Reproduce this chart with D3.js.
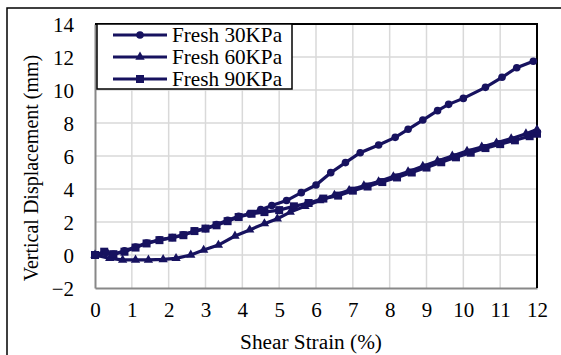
<!DOCTYPE html>
<html>
<head>
<meta charset="utf-8">
<script src="https://cdn.jsdelivr.net/npm/d3@7"></script>
<style>
  body { margin: 0; background: #fff; }
  svg text { font-family: "Liberation Serif", "Times New Roman", Tinos, "DejaVu Serif", serif !important; }
</style>
</head>
<body>
<svg id="chart" width="561" height="355"></svg>
<script>
// values
const strain30 = [0,0.3,0.5,0.8,1.1,1.4,1.75,2.1,2.4,2.7,3.0,3.3,3.6,3.9,4.2,4.5,4.8,5.2,5.6,6.0,6.4,6.8,7.2,7.7,8.15,8.5,8.9,9.3,9.6,10.0,10.6,11.05,11.45,11.9];
const disp30   = [0,0.15,0.05,0.25,0.48,0.72,0.92,1.06,1.22,1.45,1.6,1.85,2.1,2.35,2.5,2.75,3.0,3.3,3.78,4.24,4.99,5.6,6.2,6.67,7.13,7.62,8.18,8.75,9.13,9.49,10.16,10.77,11.35,11.74];

const strain60 = [0,0.4,0.75,1.1,1.45,1.85,2.2,2.6,2.95,3.35,3.8,4.2,4.6,4.95,5.3,5.7,6.1,6.5,6.9,7.3,7.7,8.1,8.5,8.9,9.3,9.7,10.1,10.5,10.9,11.3,11.7,12.0];
const disp60   = [0,-0.2,-0.3,-0.3,-0.3,-0.27,-0.2,0,0.3,0.6,1.15,1.52,1.9,2.2,2.6,2.95,3.3,3.62,3.92,4.2,4.45,4.75,5.05,5.38,5.7,6.0,6.3,6.55,6.8,7.05,7.35,7.6];

const strain90 = [0,0.25,0.5,0.8,1.1,1.4,1.75,2.1,2.4,2.7,3.0,3.3,3.6,3.9,4.25,4.6,5.0,5.4,5.8,6.2,6.6,7.0,7.4,7.8,8.2,8.6,9.0,9.4,9.8,10.2,10.6,11.0,11.4,11.8,12.0];
const disp90   = [0,0.2,0.05,0.2,0.45,0.7,0.9,1.05,1.2,1.45,1.6,1.8,2.05,2.3,2.5,2.6,2.72,2.95,3.15,3.42,3.6,3.9,4.15,4.42,4.7,5.0,5.3,5.62,5.92,6.2,6.48,6.72,6.95,7.2,7.35];

const seriesNames = ["Fresh 30KPa", "Fresh 60KPa", "Fresh 90KPa"];
const xTicks = [0,1,2,3,4,5,6,7,8,9,10,11,12];
const yTicks = [-2,0,2,4,6,8,10,12,14];

const color = "#17125f";
const series = [
  {name: seriesNames[0], marker: "circle",   pts: strain30.map((s, i) => [s, disp30[i]])},
  {name: seriesNames[1], marker: "triangle", pts: strain60.map((s, i) => [s, disp60[i]])},
  {name: seriesNames[2], marker: "square",   pts: strain90.map((s, i) => [s, disp90[i]])}
];

const svg = d3.select("#chart");
const plot = {left: 95, right: 537, top: 24, bottom: 288};

const x = d3.scaleLinear().domain([0, 12]).range([plot.left, plot.right]);
const y = d3.scaleLinear().domain([-2, 14]).range([plot.bottom, plot.top]);

// outer frame (cut off at right / bottom like the picture)
svg.append("rect")
  .attr("x", 7).attr("y", 8).attr("width", 570).attr("height", 360)
  .attr("fill", "none").attr("stroke", "#000").attr("stroke-width", 1.5);

// grid
svg.append("g").selectAll("line.v")
  .data(xTicks.slice(1))
  .join("line")
  .attr("x1", d => x(d)).attr("x2", d => x(d))
  .attr("y1", plot.top).attr("y2", plot.bottom)
  .attr("stroke", "#d9d9d9").attr("stroke-width", 1.5);

svg.append("g").selectAll("line.h")
  .data(yTicks.slice(1))
  .join("line")
  .attr("x1", plot.left).attr("x2", plot.right)
  .attr("y1", d => y(d)).attr("y2", d => y(d))
  .attr("stroke", "#d9d9d9").attr("stroke-width", 1.5);

// axes
const xAxis = svg.append("g")
  .attr("transform", "translate(0," + plot.bottom + ")")
  .call(d3.axisBottom(x).tickValues(xTicks).tickSize(0).tickPadding(14));
const yAxis = svg.append("g")
  .attr("transform", "translate(" + plot.left + ",0)")
  .call(d3.axisLeft(y).tickValues(yTicks).tickSize(0).tickPadding(21));

[xAxis, yAxis].forEach(a => {
  a.select(".domain").attr("stroke", "#888").attr("stroke-width", 2);
  a.selectAll("text").attr("font-size", 21).attr("fill", "#000");
});
yAxis.selectAll("text").attr("dy", "0.34em");

// top / right frame
svg.append("path")
  .attr("d", "M" + plot.left + "," + plot.top + "H" + plot.right + "V" + plot.bottom)
  .attr("fill", "none").attr("stroke", "#000").attr("stroke-width", 2);

// series
const line = d3.line().x(d => x(d[0])).y(d => y(d[1]));

const drawMarker = (g, type, cx, cy) => {
  if (type === "circle") {
    g.append("circle").attr("cx", cx).attr("cy", cy).attr("r", 3.8).attr("fill", color);
  } else if (type === "square") {
    g.append("rect").attr("x", cx - 4).attr("y", cy - 4).attr("width", 8).attr("height", 8).attr("fill", color);
  } else {
    const sym = d3.symbol().type(d3.symbolTriangle).size(38);
    g.append("path").attr("d", sym).attr("transform", "translate(" + cx + "," + cy + ")").attr("fill", color);
  }
};

const seriesG = svg.append("g");
series.slice().reverse().forEach(s => {
  const g = seriesG.append("g");
  g.append("path")
    .attr("d", line(s.pts))
    .attr("fill", "none").attr("stroke", color).attr("stroke-width", 3.2);
  s.pts.forEach(p => drawMarker(g, s.marker, x(p[0]), y(p[1])));
});

// axis titles
svg.append("text")
  .attr("x", 311).attr("y", 349)
  .attr("text-anchor", "middle")
  .attr("font-size", 21.3)
  .text("Shear Strain (%)");

svg.append("text")
  .attr("transform", "translate(38,168) rotate(-90)")
  .attr("text-anchor", "middle")
  .attr("font-size", 20)
  .text("Vertical Displacement (mm)");

// legend
const legend = svg.append("g");
legend.append("rect")
  .attr("x", 97).attr("y", 24).attr("width", 195).attr("height", 65)
  .attr("fill", "#fff").attr("stroke", "#000").attr("stroke-width", 1.5);

series.forEach((s, i) => {
  const cy = 35 + i * 22;
  const g = legend.append("g");
  g.append("line")
    .attr("x1", 113).attr("x2", 167).attr("y1", cy).attr("y2", cy)
    .attr("stroke", color).attr("stroke-width", 3.2);
  drawMarker(g, s.marker, 140, cy);
  g.append("text")
    .attr("x", 172).attr("y", cy).attr("dy", "0.34em")
    .attr("font-size", 21.2)
    .text(s.name);
});
</script>
</body>
</html>
